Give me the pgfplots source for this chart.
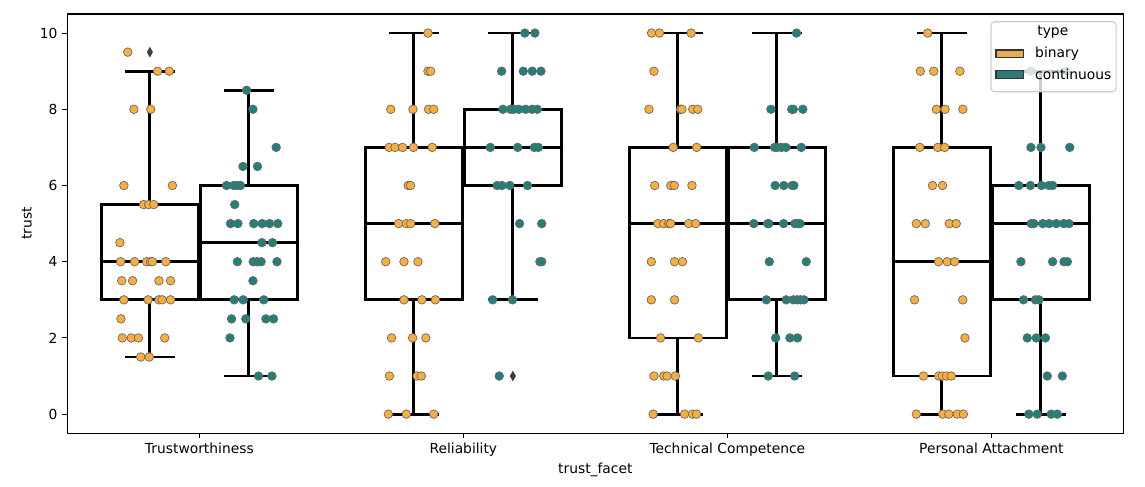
\documentclass[border=0pt]{standalone}
\usepackage{fontspec}
\setmainfont{DejaVu Sans}
\usepackage{pgfplots}
\pgfplotsset{compat=1.18}
\usepackage{pgfplotstable}
\usepgfplotslibrary{statistics}

\definecolor{binpt}{RGB}{250,174,60}
\definecolor{conpt}{RGB}{33,128,120}
\definecolor{binbox}{RGB}{229,172,86}
\definecolor{conbox}{RGB}{45,122,116}
\definecolor{flier}{RGB}{61,61,61}
\definecolor{ptedge}{RGB}{105,105,105}

% jittered strip points: x in category units, y = trust
\pgfplotstableread{
x y
-0.271 9.5
-0.158 9
-0.114 9
-0.248 8
-0.184 8
-0.286 6
-0.102 6
-0.211 5.5
-0.192 5.5
-0.173 5.5
-0.301 4.5
-0.298 4
-0.245 4
-0.200 4
-0.185 4
-0.178 4
-0.127 4
-0.294 3.5
-0.253 3.5
-0.153 3.5
-0.109 3.5
-0.286 3
-0.194 3
-0.153 3
-0.141 3
-0.109 3
-0.297 2.5
-0.292 2
-0.258 2
-0.231 2
-0.131 2
-0.222 1.5
-0.190 1.5
0.866 10
0.866 9
0.876 9
0.725 8
0.809 8
0.868 8
0.888 8
0.719 7
0.741 7
0.770 7
0.811 7
0.882 7
0.791 6
0.800 6
0.755 5
0.784 5
0.800 5
0.892 5
0.706 4
0.775 4
0.828 4
0.775 3
0.843 3
0.894 3
0.728 2
0.808 2
0.858 2
0.720 1
0.825 1
0.841 1
0.716 0
0.784 0
0.888 0
1.713 10
1.743 10
1.863 10
1.722 9
1.703 8
1.823 8
1.828 8
1.869 8
1.888 8
1.795 7
1.884 7
1.725 6
1.786 6
1.799 6
1.866 6
1.737 5
1.759 5
1.778 5
1.785 5
1.854 5
1.880 5
1.712 4
1.800 4
1.830 4
1.712 3
1.800 3
1.747 2
1.890 2
1.722 1
1.759 1
1.772 1
1.803 1
1.719 0
1.838 0
1.868 0
1.883 0
2.759 10
2.731 9
2.782 9
2.881 9
2.792 8
2.825 8
2.892 8
2.729 7
2.797 7
2.823 7
2.777 6
2.815 6
2.716 5
2.750 5
2.841 5
2.867 5
2.800 4
2.833 4
2.861 4
2.709 3
2.892 3
2.900 2
2.743 1
2.801 1
2.814 1
2.830 1
2.848 1
2.716 0
2.816 0
2.839 0
2.871 0
2.894 0
}\binarydata

\pgfplotstableread{
x y
0.179 8.5
0.203 8
0.291 7
0.165 6.5
0.220 6.5
0.103 6
0.130 6
0.144 6
0.156 6
0.134 5.5
0.118 5
0.146 5
0.206 5
0.238 5
0.266 5
0.297 5
0.237 4.5
0.277 4.5
0.144 4
0.204 4
0.219 4
0.234 4
0.294 4
0.203 3.5
0.132 3
0.166 3
0.244 3
0.122 2.5
0.176 2.5
0.252 2.5
0.281 2.5
0.116 2
0.224 1
0.275 1
1.233 10
1.271 10
1.145 9
1.227 9
1.261 9
1.294 9
1.150 8
1.179 8
1.191 8
1.210 8
1.236 8
1.261 8
1.280 8
1.102 7
1.206 7
1.269 7
1.284 7
1.128 6
1.146 6
1.176 6
1.243 6
1.213 5
1.297 5
1.290 4
1.297 4
1.111 3
1.186 3
1.136 1
2.262 10
2.165 8
2.244 8
2.250 8
2.286 8
2.102 7
2.179 7
2.189 7
2.205 7
2.222 7
2.280 7
2.181 6
2.214 6
2.246 6
2.252 6
2.100 5
2.153 5
2.157 5
2.213 5
2.256 5
2.267 5
2.275 5
2.159 4
2.299 4
2.148 3
2.223 3
2.250 3
2.265 3
2.277 3
2.290 3
2.183 2
2.237 2
2.266 2
2.155 1
2.255 1
3.150 9
3.285 9
3.150 7
3.188 7
3.297 7
3.104 6
3.148 6
3.190 6
3.218 6
3.232 6
3.151 5
3.161 5
3.195 5
3.219 5
3.246 5
3.275 5
3.294 5
3.112 4
3.232 4
3.275 4
3.288 4
3.122 3
3.167 3
3.180 3
3.136 2
3.170 2
3.205 2
3.212 1
3.269 1
3.142 0
3.174 0
3.227 0
3.250 0
}\continuousdata

\pgfplotsset{
  box/.style={
    draw=black, line width=2bp, fill=white, solid,
    mark=diamond*, mark size=3.4bp,
    mark options={fill=flier, draw=flier, line width=0.4bp, xscale=0.75},
    boxplot/draw direction=y,
    boxplot/box extend=0.3675, boxplot/whisker extend=0.19,
  },
}

\begin{document}
\begin{tikzpicture}
\begin{axis}[
  name=ax,
  scale only axis,
  width=760.3bp, height=301.8bp,
  xmin=-0.5, xmax=3.5,
  ymin=-0.5, ymax=10.5,
  xtick={0,1,2,3},
  xticklabels={Trustworthiness, Reliability, Technical Competence, Personal Attachment},
  ytick={0,2,4,6,8,10},
  tick align=outside,
  major tick length=3.5bp,
  tick style={line width=0.8bp, black},
  xtick pos=bottom, ytick pos=left,
  axis line style={line width=0.8bp},
  every tick label/.append style={font=\fontsize{10}{12}\selectfont},
  xticklabel style={inner sep=0pt, yshift=-3.5bp},
  yticklabel style={inner sep=0pt, xshift=-3.5bp},
  /pgf/number format/assume math mode=true,
  label style={font=\fontsize{10}{12}\selectfont},
  xlabel={trust\_facet},
  ylabel={trust},
  xlabel style={at={(axis description cs:0.5,0)}, anchor=north, inner sep=0pt, yshift=-21bp},
  ylabel style={at={(axis description cs:0,0.5)}, anchor=south, inner sep=0pt, yshift=25.4bp},
]
% Trustworthiness
\addplot[box, boxplot prepared={draw position=-0.1875, lower whisker=1.5, lower quartile=3, median=4, upper quartile=5.5, upper whisker=9}] coordinates {(0,9.5)};
\addplot[box, boxplot prepared={draw position=0.1875, lower whisker=1, lower quartile=3, median=4.5, upper quartile=6, upper whisker=8.5}] coordinates {};
% Reliability
\addplot[box, boxplot prepared={draw position=0.8125, lower whisker=0, lower quartile=3, median=5, upper quartile=7, upper whisker=10}] coordinates {};
\addplot[box, boxplot prepared={draw position=1.1875, lower whisker=3, lower quartile=6, median=7, upper quartile=8, upper whisker=10}] coordinates {(0,1)};
% Technical Competence
\addplot[box, boxplot prepared={draw position=1.8125, lower whisker=0, lower quartile=2, median=5, upper quartile=7, upper whisker=10}] coordinates {};
\addplot[box, boxplot prepared={draw position=2.1875, lower whisker=1, lower quartile=3, median=5, upper quartile=7, upper whisker=10}] coordinates {};
% Personal Attachment
\addplot[box, boxplot prepared={draw position=2.8125, lower whisker=0, lower quartile=1, median=4, upper quartile=7, upper whisker=10}] coordinates {};
\addplot[box, boxplot prepared={draw position=3.1875, lower whisker=0, lower quartile=3, median=5, upper quartile=6, upper whisker=9}] coordinates {};

\addplot[only marks, mark=*, mark size=3.1bp, mark options={fill=binpt, draw=ptedge, line width=0.5bp}] table[x=x, y=y] {\binarydata};
\addplot[only marks, mark=*, mark size=3.1bp, mark options={fill=conpt, draw=ptedge, line width=0.5bp}] table[x=x, y=y] {\continuousdata};
\end{axis}

% legend, on top of everything
\begin{scope}[shift={(ax.south west)}, x=760.3bp, y=301.8bp]
\draw[rounded corners=2.5bp, draw={rgb,255:red,204;green,204;blue,204}, line width=0.8bp, fill=white, fill opacity=0.8]
  (0.8747,0.8147) rectangle (0.9931,0.9816);
\node[font=\fontsize{10}{12}\selectfont] at (0.9332,0.9578) {type};
\draw[fill=binbox, draw={rgb,255:red,51;green,51;blue,51}, line width=0.8bp]
  (0.8794,0.8958) rectangle (0.9053,0.9141);
\draw[fill=conbox, draw={rgb,255:red,51;green,51;blue,51}, line width=0.8bp]
  (0.8794,0.8466) rectangle (0.9053,0.8657);
\node[font=\fontsize{10}{12}\selectfont, anchor=west, inner sep=0pt] at (0.9163,0.9063) {binary};
\node[font=\fontsize{10}{12}\selectfont, anchor=west, inner sep=0pt] at (0.9163,0.8562) {continuous};
\end{scope}
\path (ax.south west) +(-48.5bp,-38.7bp) (ax.north east) +(15.6bp,10.1bp);
\end{tikzpicture}
\end{document}
